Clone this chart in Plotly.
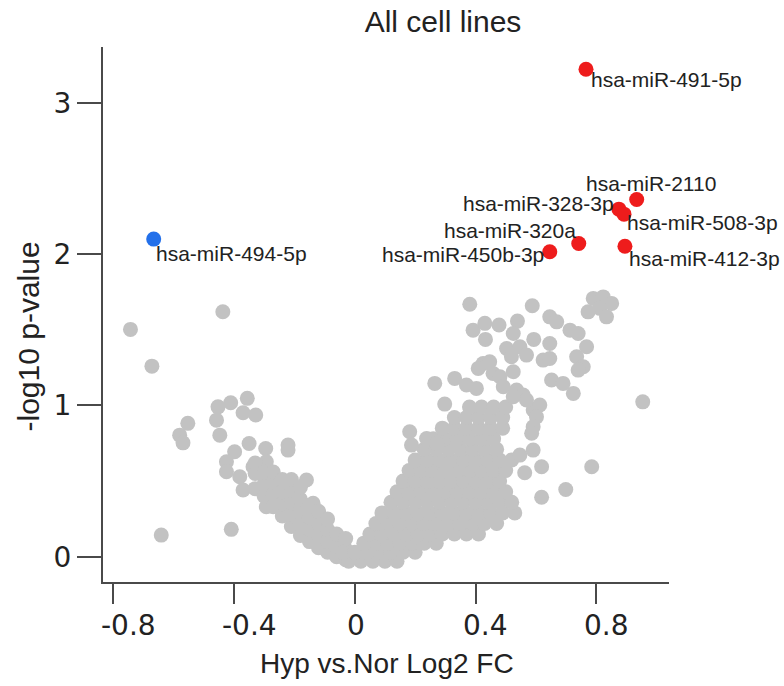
import plotly.graph_objects as go

# Highlighted miRNAs
up_names = ["hsa-miR-491-5p", "hsa-miR-2110", "hsa-miR-328-3p", "hsa-miR-508-3p",
            "hsa-miR-320a", "hsa-miR-450b-3p", "hsa-miR-412-3p"]
up_fc = [0.766, 0.934, 0.875, 0.892, 0.742, 0.646, 0.895]
up_p = [3.223, 2.362, 2.298, 2.265, 2.071, 2.016, 2.053]

down_names = ["hsa-miR-494-5p"]
down_fc = [-0.666]
down_p = [2.100]

# Non-significant miRNAs: scattered outliers on the left
left_out_fc = [-0.743, -0.437, -0.672, -0.641, -0.409, -0.553, -0.580, -0.569,
               -0.453, -0.411, -0.356, -0.370, -0.328, -0.458, -0.447, -0.398,
               -0.350, -0.295, -0.221, -0.221, -0.425, -0.425, -0.381, -0.370,
               -0.337, -0.293, -0.293, -0.160, -0.138]
left_out_p = [1.503, 1.620, 1.260, 0.143, 0.181, 0.882, 0.804, 0.753,
              0.991, 1.018, 1.047, 0.952, 0.937, 0.903, 0.804, 0.694,
              0.749, 0.716, 0.738, 0.705, 0.628, 0.562, 0.529, 0.441,
              0.595, 0.628, 0.330, 0.507, 0.353]

# Down-regulated arm of the V
left_arm_fc = [-0.33, -0.33, -0.33, -0.30, -0.30, -0.30,
               -0.27, -0.27, -0.27, -0.27, -0.24, -0.24, -0.24, -0.24,
               -0.21, -0.21, -0.21, -0.21, -0.21, -0.18, -0.18, -0.18, -0.18, -0.18,
               -0.15, -0.15, -0.15, -0.15, -0.12, -0.12, -0.12, -0.12,
               -0.09, -0.09, -0.09, -0.09, -0.06, -0.06, -0.06, -0.03, -0.03, -0.03]
left_arm_p = [0.45, 0.55, 0.62, 0.40, 0.48, 0.56,
              0.33, 0.41, 0.49, 0.56, 0.27, 0.35, 0.43, 0.51,
              0.20, 0.28, 0.36, 0.44, 0.51, 0.14, 0.22, 0.30, 0.38, 0.46,
              0.10, 0.18, 0.26, 0.34, 0.06, 0.14, 0.22, 0.30,
              0.03, 0.10, 0.18, 0.25, 0.00, 0.07, 0.15, -0.02, 0.05, 0.12]

# Up-regulated arm: dense core
core_fc = [-0.02, 0.02, 0.06, 0.10, 0.14,
           -0.04, 0.00, 0.04, 0.08, 0.12, 0.16, 0.20,
           0.03, 0.07, 0.11, 0.15, 0.19, 0.23, 0.27,
           0.05, 0.09, 0.13, 0.17, 0.21, 0.25, 0.29, 0.33, 0.37, 0.41,
           0.07, 0.11, 0.15, 0.19, 0.23, 0.27, 0.31, 0.35, 0.39, 0.43, 0.47,
           0.09, 0.13, 0.17, 0.21, 0.25, 0.29, 0.33, 0.37, 0.41, 0.45, 0.49, 0.53,
           0.12, 0.16, 0.20, 0.24, 0.28, 0.32, 0.36, 0.40, 0.44, 0.48, 0.52,
           0.14, 0.18, 0.22, 0.26, 0.30, 0.34, 0.38, 0.42, 0.46, 0.50,
           0.16, 0.20, 0.24, 0.28, 0.32, 0.36, 0.40, 0.44, 0.48,
           0.18, 0.22, 0.26, 0.30, 0.34, 0.38, 0.42, 0.46, 0.50,
           0.20, 0.24, 0.28, 0.32, 0.36, 0.40, 0.44, 0.48, 0.52,
           0.23, 0.27, 0.31, 0.35, 0.39, 0.43, 0.47,
           0.26, 0.30, 0.34, 0.38, 0.42, 0.46,
           0.29, 0.33, 0.37, 0.41, 0.45, 0.49,
           0.33, 0.37, 0.41, 0.45, 0.49,
           0.38, 0.42, 0.46, 0.50]
core_p = [-0.03, -0.03, -0.03, -0.03, -0.03,
          0.03, 0.03, 0.03, 0.03, 0.03, 0.03, 0.03,
          0.09, 0.09, 0.09, 0.09, 0.09, 0.09, 0.09,
          0.15, 0.15, 0.15, 0.15, 0.15, 0.15, 0.15, 0.15, 0.15, 0.15,
          0.22, 0.22, 0.22, 0.22, 0.22, 0.22, 0.22, 0.22, 0.22, 0.22, 0.22,
          0.29, 0.29, 0.29, 0.29, 0.29, 0.29, 0.29, 0.29, 0.29, 0.29, 0.29, 0.29,
          0.36, 0.36, 0.36, 0.36, 0.36, 0.36, 0.36, 0.36, 0.36, 0.36, 0.36,
          0.43, 0.43, 0.43, 0.43, 0.43, 0.43, 0.43, 0.43, 0.43, 0.43,
          0.50, 0.50, 0.50, 0.50, 0.50, 0.50, 0.50, 0.50, 0.50,
          0.57, 0.57, 0.57, 0.57, 0.57, 0.57, 0.57, 0.57, 0.57,
          0.64, 0.64, 0.64, 0.64, 0.64, 0.64, 0.64, 0.64, 0.64,
          0.71, 0.71, 0.71, 0.71, 0.71, 0.71, 0.71,
          0.78, 0.78, 0.78, 0.78, 0.78, 0.78,
          0.85, 0.85, 0.85, 0.85, 0.85, 0.85,
          0.92, 0.92, 0.92, 0.92, 0.92,
          0.99, 0.99, 0.99, 0.99]

# Up-regulated arm: upper and outer points
upper_fc = [0.381, 0.588, 0.392, 0.431, 0.478, 0.433, 0.539, 0.525, 0.503, 0.547,
            0.569, 0.519, 0.593, 0.646, 0.669, 0.713, 0.740, 0.646, 0.624, 0.646,
            0.768, 0.735, 0.757, 0.740, 0.790, 0.823, 0.851, 0.812, 0.773, 0.834,
            0.954, 0.785, 0.699, 0.619, 0.619, 0.563, 0.591, 0.547, 0.652, 0.690,
            0.724, 0.591, 0.613, 0.602, 0.591, 0.586, 0.525, 0.425, 0.409, 0.447,
            0.458, 0.481, 0.492, 0.265, 0.331, 0.370, 0.403, 0.298, 0.536, 0.558,
            0.569, 0.525, 0.182, 0.188, 0.238, 0.271]
upper_p = [1.669, 1.659, 1.498, 1.543, 1.532, 1.437, 1.558, 1.476, 1.377, 1.388,
           1.333, 1.322, 1.437, 1.586, 1.553, 1.498, 1.476, 1.410, 1.300, 1.311,
           1.388, 1.322, 1.256, 1.234, 1.708, 1.718, 1.675, 1.642, 1.619, 1.586,
           1.024, 0.595, 0.445, 0.393, 0.595, 0.555, 0.705, 0.672, 1.168, 1.146,
           1.080, 0.970, 1.003, 0.925, 0.859, 0.816, 1.223, 1.278, 1.245, 1.289,
           1.212, 1.190, 1.124, 1.146, 1.179, 1.135, 1.113, 1.009, 1.102, 1.069,
           1.036, 1.058, 0.826, 0.738, 0.782, 0.749]

gray_fc = left_out_fc + left_arm_fc + core_fc + upper_fc
gray_p = left_out_p + left_arm_p + core_p + upper_p

# Label placement: (xanchor, xshift, yshift) for each highlighted point
up_label_pos = [("left", 3, -10), ("left", -53, 16), ("right", -3, 6), ("left", 1, -8),
                ("right", -1, 13), ("right", -4, -3), ("left", 2, -12)]
down_label_pos = [("left", 0, -14)]

x_ticks = [-0.8, -0.4, 0, 0.4, 0.8]
x_tick_text = ["-0.8", "-0.4", "0", "0.4", "0.8"]
x_tick_shift = [15, 15, 1, 10, 10]
y_ticks = [0, 1, 2, 3]

GRAY = "#c2c2c2"
RED = "#ee1c1c"
BLUE = "#2370ea"
AXIS = "#4a4a4a"
TEXT = "#222222"
LABEL_FONT = "Liberation Sans, Arial, sans-serif"
TICK_FONT = "DejaVu Sans, Verdana, sans-serif"

fig = go.Figure()
fig.add_trace(go.Scatter(x=gray_fc, y=gray_p, mode="markers",
                         marker=dict(size=15, color=GRAY), hoverinfo="skip"))
fig.add_trace(go.Scatter(x=up_fc, y=up_p, mode="markers", text=up_names,
                         marker=dict(size=15, color=RED)))
fig.add_trace(go.Scatter(x=down_fc, y=down_p, mode="markers", text=down_names,
                         marker=dict(size=15, color=BLUE)))

# Point labels
for names, xs, ys, pos in [(up_names, up_fc, up_p, up_label_pos),
                           (down_names, down_fc, down_p, down_label_pos)]:
    for n, xv, yv, (anc, dx, dy) in zip(names, xs, ys, pos):
        fig.add_annotation(x=xv, y=yv, text=n, showarrow=False,
                           xanchor=anc, yanchor="middle", xshift=dx, yshift=dy,
                           font=dict(family=LABEL_FONT, size=21, color=TEXT))

# x tick labels, set slightly right of their tick marks
for tv, tt, sh in zip(x_ticks, x_tick_text, x_tick_shift):
    fig.add_annotation(x=tv, y=0, xref="x", yref="paper", text=tt, showarrow=False,
                       xanchor="center", yanchor="middle", xshift=sh, yshift=-43,
                       font=dict(family=TICK_FONT, size=28, color=TEXT))

# Axis titles
fig.add_annotation(x=0.502, y=0, xref="paper", yref="paper", text="Hyp vs.Nor Log2 FC",
                   showarrow=False, xanchor="center", yanchor="middle", yshift=-81,
                   font=dict(family=LABEL_FONT, size=28, color=TEXT))
fig.add_annotation(x=0, y=0.5, xref="paper", yref="paper", text="-log10 p-value",
                   showarrow=False, xanchor="center", yanchor="middle", textangle=-90,
                   xshift=-75, yshift=-22,
                   font=dict(family=LABEL_FONT, size=30, color=TEXT))

fig.update_layout(
    width=784, height=686,
    margin=dict(l=103, r=115, t=47, b=104),
    paper_bgcolor="white", plot_bgcolor="white",
    showlegend=False,
    title=dict(text="All cell lines", x=443 / 784, xanchor="center",
               y=1 - 21 / 686, yanchor="middle",
               font=dict(family=LABEL_FONT, size=30, color=TEXT)),
)
fig.update_xaxes(range=[-0.834, 1.041], tickvals=x_ticks, showticklabels=False,
                 showgrid=False, zeroline=False, showline=True,
                 linecolor=AXIS, linewidth=2, ticks="outside", ticklen=20,
                 tickwidth=2, tickcolor=AXIS)
fig.update_yaxes(range=[-0.167, 3.37], tickvals=y_ticks,
                 showgrid=False, zeroline=False, showline=True,
                 linecolor=AXIS, linewidth=2, ticks="outside", ticklen=24,
                 tickwidth=2, tickcolor=AXIS,
                 tickfont=dict(family=TICK_FONT, size=28, color=TEXT))

fig.write_html("out.html")
